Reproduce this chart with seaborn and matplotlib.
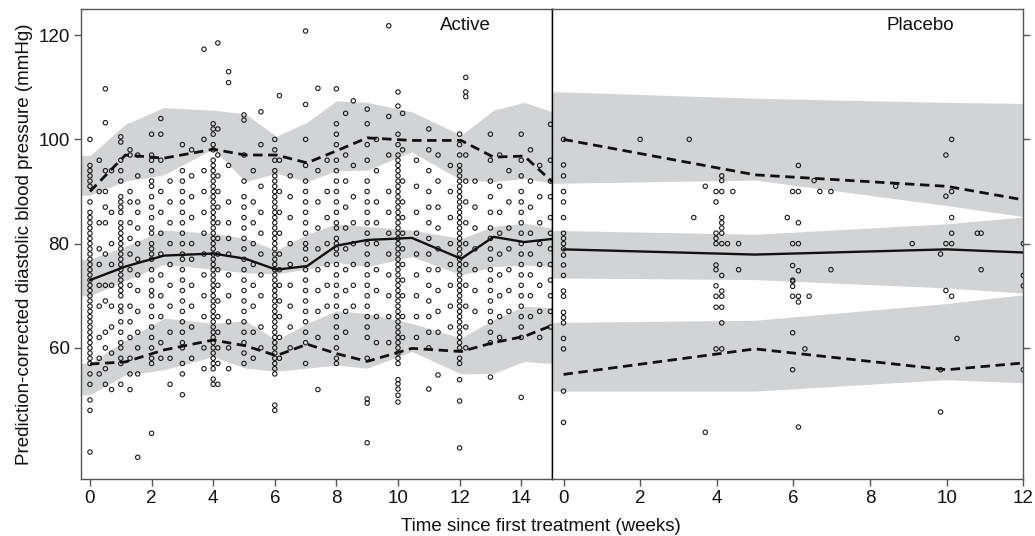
import numpy as np
import pandas as pd
import seaborn as sns
import matplotlib
matplotlib.use("Agg")
import matplotlib.pyplot as plt

# observed (prediction-corrected) values, one list per time column
act_times = [0, 0.3, 0.5, 0.7, 1.0, 1.3, 1.55, 2.0, 2.3, 2.6, 3.0, 3.3, 3.7, 4.0, 4.15, 4.5,
             5.0, 5.3, 5.55, 6.0, 6.15, 6.5, 7.0, 7.4, 7.7, 8.0, 8.3, 8.55, 9.0, 9.3, 9.7,
             10.0, 10.15, 10.6, 11.0, 11.3, 11.7, 12.0, 12.2, 12.5, 13.0, 13.3, 13.6,
             14.0, 14.3, 14.6, 14.95]
act_values = [
    [100, 95, 94, 93, 92, 91, 88, 86, 85, 84, 83, 82, 81, 80, 79, 78, 77, 76, 75, 74, 73, 72, 71,
     70, 69, 68, 67, 66, 65, 64, 63, 62, 61, 60, 59, 58, 57, 55, 53, 50, 48, 40],
    [96, 90, 84, 79, 76, 72, 68, 62, 58, 55],
    [109.7, 103.2, 94, 90, 87, 84, 78, 72, 69, 63, 60, 56, 53],
    [94, 86, 80, 76, 72, 68, 64, 59, 52],
    [100.5, 99.5, 96, 94, 92, 89, 88, 87, 86, 84, 83, 82, 81, 80, 79, 78, 77, 76, 75, 74, 73, 72,
     71, 70, 68, 67, 65, 63, 61, 60, 58, 57, 53],
    [98, 97, 90, 88, 84, 81, 78, 75, 72, 68, 65, 62, 58, 55, 52],
    [97, 93, 88, 86, 83, 80, 77, 74, 71, 67, 63, 60, 55, 39],
    [101, 97, 96, 94, 92, 91, 89, 87, 85, 83, 82, 80, 79, 78, 77, 75, 73, 71, 70, 68, 66, 64, 62,
     60, 58, 57, 43.6],
    [104, 101, 96, 90, 86, 82, 78, 74, 70, 66, 61, 58],
    [92, 88, 84, 80, 76, 72, 68, 63, 58, 53],
    [99, 94, 92, 90, 88, 86, 84, 82, 80, 78, 77, 75, 73, 71, 69, 67, 65, 63, 61, 60, 57, 55, 51],
    [98, 93, 89, 85, 80, 77, 72, 68, 64, 58],
    [117.3, 100, 94, 90, 86, 82, 78, 74, 70, 66, 60, 56],
    [103, 102, 101, 99, 98, 96, 95, 94, 93, 92, 91, 90, 89, 88, 87, 86, 85, 84, 83, 82, 81, 80, 79,
     78, 77, 76, 75, 74, 73, 72, 71, 70, 69, 68, 67, 66, 65, 64, 63, 62, 61, 60, 59, 58, 57, 56,
     54, 53],
    [118.5, 102, 97, 93, 90, 87, 84, 81, 78, 75, 72, 69, 66, 63, 60, 57, 53],
    [113, 110.9, 95, 88, 84, 81, 78, 74, 70, 65, 60, 56],
    [104.7, 103.7, 97, 92, 89, 87, 85, 83, 81, 79, 77, 75, 73, 71, 69, 67, 65, 63, 61, 59, 57],
    [94, 88, 84, 80, 76, 72, 68, 63, 58],
    [105.3, 99, 91, 86, 82, 78, 74, 70, 64, 60],
    [100, 98, 96, 94, 93, 92, 91, 90, 89, 88, 87, 86, 85, 84, 83, 82, 81, 80, 79, 78, 77, 76, 75,
     74, 73, 72, 71, 70, 69, 68, 67, 66, 65, 64, 63, 62, 61, 60, 59, 58, 57, 56, 55, 49, 48],
    [108.4, 96, 90, 86, 82, 78, 75, 72, 69, 66, 62, 58],
    [93, 89, 85, 80, 76, 72, 68, 64, 60],
    [120.8, 106.7, 100, 95, 92, 90, 88, 86, 84, 82, 80, 79, 77, 75, 73, 71, 69, 67, 65, 63, 61, 57],
    [109.8, 94, 88, 83, 79, 75, 71, 67, 62, 52],
    [96, 90, 85, 80, 76, 72, 68],
    [109.7, 103, 101, 99, 96, 94, 92, 90, 88, 86, 84, 83, 81, 80, 79, 78, 76, 74, 72, 70, 68, 66,
     64, 62, 60, 58, 57],
    [105, 97, 92, 87, 83, 79, 75, 71, 67, 63],
    [107.4, 95, 89, 84, 80, 76, 72, 68],
    [105.8, 103, 99, 96, 92, 90, 88, 86, 84, 82, 80, 78, 76, 74, 72, 70, 68, 66, 64, 62, 58, 50.2,
     49.4, 41.8],
    [100, 94, 88, 84, 80, 75, 71, 66, 61],
    [121.8, 104.4, 97, 90, 86, 82, 78, 74, 70, 66, 61],
    [109.1, 106.4, 101, 99, 97, 96, 95, 94, 93, 92, 91, 90, 89, 88, 87, 86, 85, 84, 83, 82, 81,
     80, 79, 78, 77, 76, 75, 74, 73, 72, 71, 70, 69, 68, 67, 66, 65, 64, 63, 62, 61, 60, 59, 58,
     57, 53.9, 53.1, 52.1, 50.9, 49.6],
    [105, 98, 92, 88, 85, 82, 79, 76, 73, 70, 66, 62],
    [96, 91, 86, 82, 78, 74, 70, 66, 62],
    [102, 98, 94, 90, 87, 84, 81, 78, 75, 72, 69, 66, 63, 60, 52.1],
    [97, 92, 87, 83, 79, 75, 71, 67, 63, 54.8],
    [95, 90, 85, 80, 76, 72, 68, 64],
    [101, 99, 97, 95, 94, 93, 92, 91, 90, 89, 88, 87, 86, 85, 84, 83, 82, 81, 80, 79, 78, 77, 76,
     75, 74, 73, 72, 71, 70, 69, 68, 67, 66, 65, 64, 63, 62, 61, 60, 58, 57, 53.9, 49.8, 40.8],
    [111.9, 109.1, 108.2, 97, 92, 88, 84, 80, 76, 72, 68, 64, 60],
    [92, 87, 83, 79, 75, 71, 67],
    [101, 96, 92, 89, 86, 83, 81, 79, 77, 75, 73, 71, 69, 67, 65, 63, 61, 54.4],
    [97, 91, 86, 82, 78, 74, 70, 66, 62],
    [94, 88, 83, 79, 75, 71, 67],
    [101, 96, 93, 90, 88, 86, 84, 82, 80, 78, 76, 74, 72, 70, 68, 66, 64, 62, 50.5],
    [98, 92, 87, 82, 78, 74, 70, 66],
    [95, 89, 84, 80, 76, 72, 67, 62],
    [102.9, 96, 92, 89, 85, 82, 79, 76, 73, 70, 67, 64],
]

pla_times = [0, 2.0, 3.28, 3.4, 3.7, 3.98, 4.13, 4.28, 4.42, 4.57, 5.84, 5.98, 6.13, 6.3, 6.41,
             6.54, 6.69, 6.98, 8.67, 9.1, 9.84, 9.98, 10.13, 10.27, 10.8, 10.9, 12.0]
pla_values = [
    [100, 95.1, 93, 90, 88, 85, 82, 81, 80, 79, 77.8, 75.9, 73.9, 70.9, 69.9, 66.8, 65.8, 64.8,
     61.8, 59.8, 51.7, 45.7],
    [100], [100], [85], [91, 43.8],
    [90, 88, 82, 81, 80, 75.9, 75, 71.9, 69.9, 67.8, 59.8],
    [93, 92.1, 90, 85, 84, 83, 82, 80, 73.9, 70.9, 69.9, 67.8, 64.8, 59.8],
    [80], [90], [80, 75], [85],
    [90, 80, 75.8, 73, 72.8, 71.8, 69.9, 62.9, 55.8],
    [95, 90, 84, 80, 74.8, 69.9, 68.8, 44.8],
    [59.8], [69.9], [92.1], [90], [90, 75], [91], [80],
    [78, 55.8, 47.7],
    [97, 89.1, 80, 71],
    [100, 90, 85, 82, 80, 69.9],
    [61.8], [82], [82, 75],
    [80, 73.9, 71.9, 55.8],
]

# binned observed percentiles (lines) and simulated 95% intervals (grey bands)
act_bin_t = [0, 1.15, 2.4, 4.0, 5.05, 6.05, 7.05, 8.0, 9.0, 10.45, 12.05, 13.1, 14.1, 15.0]
act_p50 = [73.0, 75.6, 77.7, 78.1, 77.1, 75.0, 75.7, 79.6, 80.7, 81.1, 77.1, 81.3, 80.3, 80.9]
act_p95 = [90.0, 97.0, 96.4, 98.1, 97.0, 97.0, 95.5, 97.8, 100.3, 99.8, 99.8, 96.6, 96.8, 91.9]
act_p05 = [56.9, 57.3, 59.6, 61.5, 60.4, 58.5, 60.7, 58.9, 57.4, 59.9, 59.3, 61.0, 62.2, 64.3]
act_p95_lo = [89.3, 92.0, 93.2, 98.2, 91.9, 93.5, 91.9, 94.0, 94.1, 97.6, 92.2, 91.9, 92.5, 91.6]
act_p95_hi = [96.9, 102.9, 106.1, 105.6, 104.9, 100.6, 103.3, 107.4, 107.1, 105.3, 100.8, 105.6,
              107.1, 105.3]
act_p50_lo = [70.0, 72.9, 76.0, 75.1, 74.4, 74.2, 75.1, 76.4, 75.6, 77.5, 74.0, 75.6, 75.9, 75.6]
act_p50_hi = [77.0, 79.5, 82.6, 82.0, 81.0, 78.7, 81.8, 83.8, 83.3, 82.6, 81.0, 83.3, 83.9, 83.0]
act_p05_lo = [51.0, 54.8, 55.8, 58.3, 56.1, 55.5, 56.1, 56.7, 56.1, 59.3, 55.0, 55.1, 57.4, 57.0]
act_p05_hi = [57.0, 61.5, 65.7, 64.7, 65.2, 61.5, 64.7, 67.1, 66.6, 64.7, 61.9, 65.4, 68.0, 67.7]

pla_bin_t = [0, 5, 10, 12]
pla_p50 = [78.9, 77.9, 78.9, 78.3]
pla_p95 = [100.0, 93.2, 91.0, 88.4]
pla_p05 = [54.9, 59.8, 55.8, 57.1]
pla_p95_lo = [91.6, 92.2, 87.3, 85.2]
pla_p95_hi = [109.1, 107.9, 107.1, 106.9]
pla_p50_lo = [73.4, 73.1, 71.5, 70.5]
pla_p50_hi = [82.5, 81.8, 83.8, 85.1]
pla_p05_lo = [51.7, 51.7, 53.9, 53.3]
pla_p05_hi = [64.9, 65.3, 68.5, 70.2]


def obs_frame(times, values):
    rows = [(t, v) for t, vals in zip(times, values) for v in vals]
    return pd.DataFrame(rows, columns=["time", "dbp"])


def bin_frame(t, p05, p50, p95):
    return pd.DataFrame({"time": t, "p05": p05, "p50": p50, "p95": p95})


SPINE = "#555555"
BAND = "#d2d3d5"
DASH = (0, (3.4, 2.0))
FS = 13.5


def draw_panel(ax, obs, bins, bands, xmin, xmax, label, label_x):
    # grey bands start at the left edge of the panel
    xb = np.r_[xmin, bins["time"].values]
    for lo, hi in bands:
        ax.fill_between(xb, np.r_[lo[0], lo], np.r_[hi[0], hi], color=BAND, lw=0, zorder=1)

    sns.scatterplot(data=obs, x="time", y="dbp", marker="o", s=10, color="k",
                    facecolor="none", edgecolor="#1a1a1a", linewidth=0.8, ax=ax, zorder=3)

    sns.lineplot(data=bins, x="time", y="p50", color="#111111", lw=1.7,
                 estimator=None, sort=False, ax=ax, zorder=4)
    for col in ["p05", "p95"]:
        sns.lineplot(data=bins, x="time", y=col, color="#111111", lw=2.0, linestyle=DASH,
                     estimator=None, sort=False, ax=ax, zorder=4)

    ax.set_xlim(xmin, xmax)
    ax.set_ylim(34.8, 125)
    ax.set_xlabel("")
    ax.set_ylabel("")
    ax.text(label_x, 0.966, label, transform=ax.transAxes, ha="center", va="center",
            fontsize=FS, color="#111111")
    for s in ax.spines.values():
        s.set_color(SPINE)
        s.set_linewidth(1.0)
    ax.tick_params(colors=SPINE, labelcolor="#111111", labelsize=FS, length=5, width=1, pad=3)


sns.set_style("ticks")
plt.rcParams["font.family"] = ["Liberation Sans", "DejaVu Sans"]

fig, (ax1, ax2) = plt.subplots(1, 2, figsize=(10.35, 5.36), dpi=100)
fig.subplots_adjust(left=0.078, right=0.9887, top=0.983, bottom=0.106, wspace=0)

act_obs = obs_frame(act_times, act_values)
pla_obs = obs_frame(pla_times, pla_values)
act_bins = bin_frame(act_bin_t, act_p05, act_p50, act_p95)
pla_bins = bin_frame(pla_bin_t, pla_p05, pla_p50, pla_p95)
act_bands = [(act_p05_lo, act_p05_hi), (act_p50_lo, act_p50_hi), (act_p95_lo, act_p95_hi)]
pla_bands = [(pla_p05_lo, pla_p05_hi), (pla_p50_lo, pla_p50_hi), (pla_p95_lo, pla_p95_hi)]

draw_panel(ax1, act_obs, act_bins, act_bands, -0.3, 15, "Active", 0.816)
draw_panel(ax2, pla_obs, pla_bins, pla_bands, -0.3, 12, "Placebo", 0.781)

ax1.set_xticks(range(0, 15, 2))
ax1.set_yticks([60, 80, 100, 120])
ax1.spines["right"].set_color("black")
ax1.set_ylabel("Prediction-corrected diastolic blood pressure (mmHg)", fontsize=FS,
               color="#111111", labelpad=4)

ax2.set_xticks(range(0, 13, 2))
ax2.set_yticks([60, 80, 100, 120])
ax2.yaxis.tick_right()
ax2.tick_params(axis="y", labelright=False)
ax2.spines["left"].set_color("black")

fig.text(0.523, 0.017, "Time since first treatment (weeks)", ha="center", va="center",
         fontsize=FS, color="#111111")

fig.savefig("out.png", dpi=100)
